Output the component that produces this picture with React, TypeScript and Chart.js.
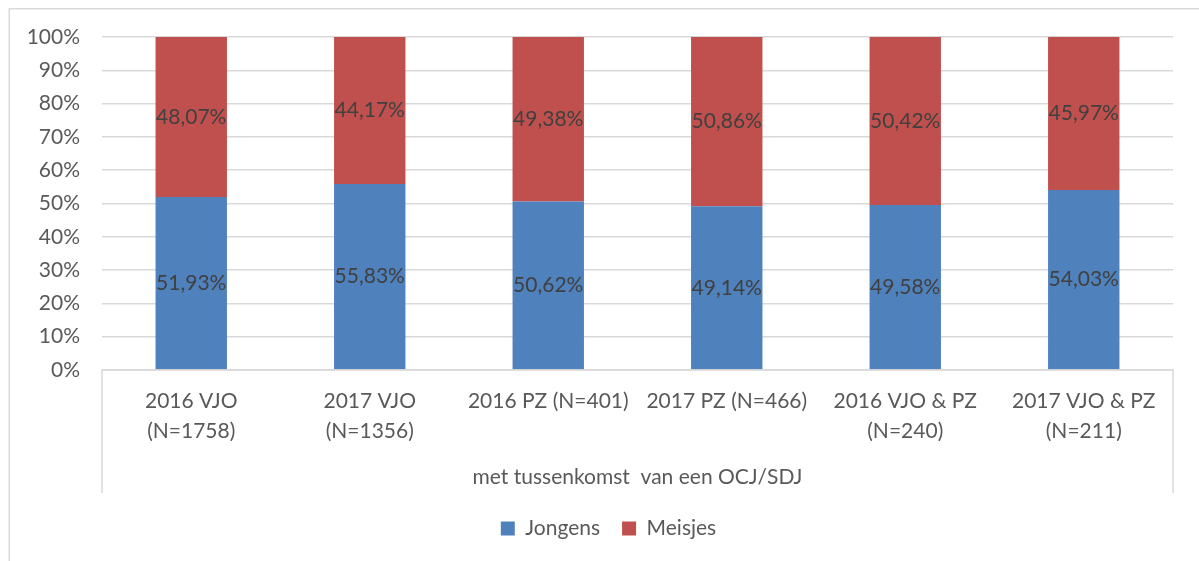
import React, { useEffect, useRef } from "react";
import { Chart, registerables } from "chart.js";

Chart.register(...registerables);

const categories: (string | string[])[] = [
  ["2016 VJO", "(N=1758)"],
  ["2017 VJO", "(N=1356)"],
  "2016 PZ (N=401)",
  "2017 PZ (N=466)",
  ["2016 VJO & PZ", "(N=240)"],
  ["2017 VJO & PZ", "(N=211)"],
];
const jongens = [51.93, 55.83, 50.62, 49.14, 49.58, 54.03];
const meisjes = [48.07, 44.17, 49.38, 50.86, 50.42, 45.97];
const groupLabel = "met tussenkomst  van een OCJ/SDJ";
const yTicks = [0, 10, 20, 30, 40, 50, 60, 70, 80, 90, 100];

const FONT = "Lato";
const TEXT = "#595959";
const LINE = "#D9D9D9";

const fmt = (v: number) => v.toFixed(2).replace(".", ",") + "%";

const decorPlugin = {
  id: "decor",
  afterLayout(chart: any) {
    const lg = chart.legend;
    if (lg) {
      lg.left += 18;
      lg.right += 18;
    }
  },
  beforeDraw(chart: any) {
    const ctx = chart.ctx;
    ctx.save();
    ctx.strokeStyle = LINE;
    ctx.lineWidth = 1.5;
    ctx.beginPath();
    ctx.moveTo(1.25, chart.height);
    ctx.lineTo(1.25, 0.75);
    ctx.lineTo(chart.width, 0.75);
    ctx.stroke();
    ctx.restore();
  },
  afterDraw(chart: any) {
    const ctx = chart.ctx;
    const { left, right, bottom } = chart.chartArea;
    ctx.save();
    // category axis box
    ctx.strokeStyle = LINE;
    ctx.lineWidth = 1.5;
    ctx.beginPath();
    ctx.moveTo(left, bottom + 123);
    ctx.lineTo(left, bottom);
    ctx.lineTo(right, bottom);
    ctx.lineTo(right, bottom + 123);
    ctx.stroke();
    // group label
    ctx.fillStyle = TEXT;
    ctx.font = `21px ${FONT}`;
    ctx.textAlign = "center";
    ctx.textBaseline = "middle";
    ctx.fillText(groupLabel, (left + right) / 2, bottom + 107);
    // data labels
    ctx.fillStyle = "#404040";
    chart.data.datasets.forEach((ds: any, di: number) => {
      const meta = chart.getDatasetMeta(di);
      meta.data.forEach((bar: any, i: number) => {
        const y = (bar.y + bar.base) / 2;
        ctx.fillText(fmt(ds.data[i]), bar.x, y);
      });
    });
    ctx.restore();
  },
};

export default function App() {
  const ref = useRef<HTMLCanvasElement | null>(null);
  useEffect(() => {
    if (!ref.current) return;
    const chart = new Chart(ref.current, {
      type: "bar",
      data: {
        labels: categories,
        datasets: [
          {
            label: "Jongens",
            data: jongens,
            backgroundColor: "#4F81BD",
            barPercentage: 0.4,
            categoryPercentage: 1,
          },
          {
            label: "Meisjes",
            data: meisjes,
            backgroundColor: "#C0504D",
            barPercentage: 0.4,
            categoryPercentage: 1,
          },
        ],
      },
      options: {
        animation: false,
        responsive: false,
        maintainAspectRatio: false,
        layout: { padding: { top: 29, right: 26, left: 0, bottom: 12 } },
        plugins: {
          legend: {
            position: "bottom",
            labels: {
              boxWidth: 14,
              boxHeight: 14,
              padding: 22,
              color: TEXT,
              font: { family: FONT, size: 21 },
            },
          },
          tooltip: { enabled: false },
        },
        scales: {
          x: {
            stacked: true,
            grid: { display: false, drawTicks: false },
            border: { display: false },
            ticks: {
              autoSkip: false,
              maxRotation: 0,
              minRotation: 0,
              padding: 16,
              color: TEXT,
              font: { family: FONT, size: 21, lineHeight: 1.45 },
            },
            afterFit(scale: any) {
              const lh = scale.chart.legend ? scale.chart.legend.height : 0;
              scale.height = scale.chart.height - 12 - lh - 362;
            },
          },
          y: {
            stacked: true,
            min: 0,
            max: 100,
            afterBuildTicks(scale: any) {
              scale.ticks = yTicks.map((v) => ({ value: v }));
            },
            grid: { color: LINE, lineWidth: 1.5, drawTicks: false },
            border: { display: false },
            ticks: {
              padding: 22,
              color: TEXT,
              font: { family: FONT, size: 21 },
              callback: (v: any) => v + "%",
            },
            afterFit(scale: any) {
              scale.width = 94;
              scale.paddingTop = 0;
              scale.paddingBottom = 0;
            },
          },
        },
      },
      plugins: [decorPlugin],
    } as any);
    return () => chart.destroy();
  }, []);
  return (
    <div style={{ position: "fixed", left: 8, top: 8, width: 1191, height: 553, background: "#fff" }}>
      <canvas ref={ref} width={1191} height={553} style={{ display: "block" }} />
    </div>
  );
}
